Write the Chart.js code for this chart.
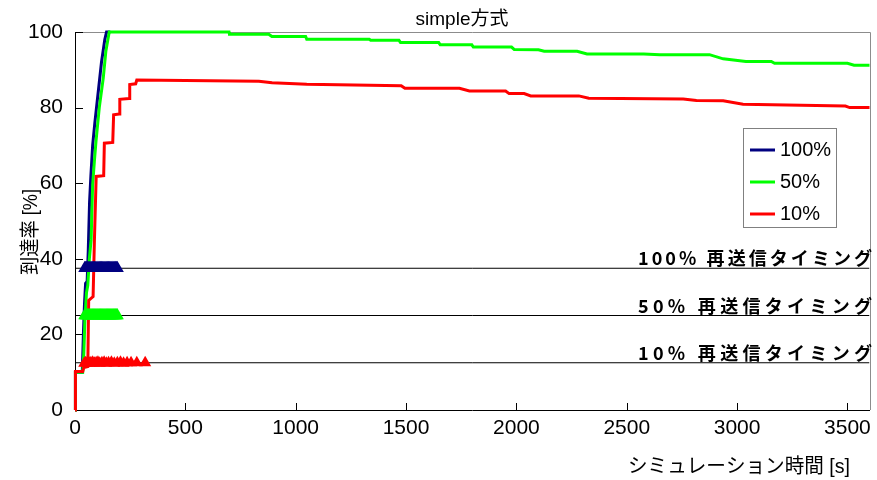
<!DOCTYPE html>
<html>
<head>
<meta charset="utf-8">
<script src="https://cdn.jsdelivr.net/npm/chart.js@4/dist/chart.umd.min.js"></script>
<style>
  html, body { margin: 0; padding: 0; background: #fff; }
  canvas { display: block; }
</style>
</head>
<body>
<canvas id="c" width="877" height="480"></canvas>
<script>
// ---- data (time [s], arrival rate [%]) ----
const navyT = [0, 2, 33, 38, 43, 48, 55, 60, 66, 72, 80, 90, 105, 120, 135, 143, 160];
const navyV = [0, 10, 10, 20, 28, 33.5, 34, 42, 55, 62, 70, 76, 84, 92, 98, 100, 100];

const greenT = [0, 2, 35, 40, 45, 52, 58, 65, 73, 80, 88, 95, 110, 128, 140, 155, 698, 700, 878, 892,
  1045, 1050, 1333, 1340, 1468, 1475, 1648, 1655, 1798, 1805, 1978, 1990, 2100, 2126, 2275, 2320,
  2577, 2650, 2875, 2937, 3040, 3155, 3170, 3500, 3530, 3600];
const greenV = [0, 10, 10, 15, 24, 31, 33, 40, 45, 59.6, 66, 71, 80, 87.8, 95, 100, 100, 99.4, 99.4, 98.8,
  98.8, 98.1, 98.1, 97.8, 97.8, 97.2, 97.2, 96.6, 96.6, 96.0, 96.0, 95.4, 95.3, 94.9, 94.9, 94.2,
  94.2, 94.0, 94.0, 92.9, 92.2, 92.2, 91.7, 91.7, 91.2, 91.2];

const redT = [0, 2, 35, 40, 58, 62, 82, 88, 96, 130, 133, 171, 175, 200, 203, 245, 248, 275, 280,
  833, 893, 1050, 1478, 1495, 1742, 1787, 1951, 1967, 2035, 2065, 2283, 2328, 2756, 2816, 2937,
  3027, 3491, 3510, 3600];
const redV = [0, 10.2, 10.2, 11.2, 11.5, 29, 30, 45, 61.8, 62, 70.6, 70.8, 78.1, 78.3, 82.2, 82.4, 86.1, 86.3, 87.3,
  87.0, 86.6, 86.2, 85.8, 85.1, 85.1, 84.4, 84.4, 83.7, 83.7, 83.1, 83.1, 82.5, 82.3, 81.9, 81.8,
  80.9, 80.4, 80.0, 80.0];

// resend timing markers
const navyMarkT = [44, 48, 52, 56, 60, 64, 68, 72, 76, 80, 84, 88, 92, 96, 100, 104, 108, 112, 116, 120,
  124, 128, 132, 136, 140, 144, 148, 152, 156, 160, 164, 168, 172, 176, 180, 184, 188, 192];
const navyMarkV = [37.5, 37.5, 37.5, 37.5, 37.5, 37.5, 37.5, 37.5, 37.5, 37.5, 37.5, 37.5, 37.5, 37.5, 37.5,
  37.5, 37.5, 37.5, 37.5, 37.5, 37.5, 37.5, 37.5, 37.5, 37.5, 37.5, 37.5, 37.5, 37.5, 37.5, 37.5, 37.5,
  37.5, 37.5, 37.5, 37.5, 37.5, 37.5];
const greenMarkT = [44, 48, 52, 56, 60, 64, 68, 72, 76, 80, 84, 88, 92, 96, 100, 104, 108, 112, 116, 120,
  124, 128, 132, 136, 140, 144, 148, 152, 156, 160, 164, 168, 172, 176, 180, 184, 188, 192];
const greenMarkV = [25, 25, 25, 25, 25, 25, 25, 25, 25, 25, 25, 25, 25, 25, 25, 25, 25, 25, 25,
  25, 25, 25, 25, 25, 25, 25, 25, 25, 25, 25, 25, 25, 25, 25, 25, 25, 25, 25];
const redMarkT = [42, 48, 54, 60, 66, 72, 80, 88, 96, 104, 112, 122, 132, 142, 152, 165, 178, 192, 206, 220, 236, 254, 280, 318];
const redMarkV = [12.4, 12.5, 12.4, 12.6, 12.4, 12.5, 12.6, 12.4, 12.5, 12.6, 12.4, 12.5, 12.6, 12.4,
  12.5, 12.6, 12.4, 12.5, 12.6, 12.4, 12.5, 12.5, 12.5, 12.5];

// reference lines
const refT = [0, 3600];
const ref100 = [37.5, 37.5];
const ref50 = [25, 25];
const ref10 = [12.5, 12.5];

// axis ticks
const xTicks = [0, 500, 1000, 1500, 2000, 2500, 3000, 3500];
const yTicks = [0, 20, 40, 60, 80, 100];

const seriesLabels = ['100%', '50%', '10%'];
const refLabels = ['100% 再送信タイミング', '50% 再送信タイミング', '10% 再送信タイミング'];
const titleText = 'simple方式';
const xTitle = 'シミュレーション時間 [s]';
const yTitle = '到達率 [%]';

const NAVY = '#000080', GREEN = '#00ff00', RED = '#ff0000';
const FONT = '"Liberation Sans", Arial, "Noto Sans CJK JP", sans-serif';

const pts = (t, v) => t.map((x, i) => ({ x, y: v[i] }));

function lineDs(t, v, color, label) {
  return { label, data: pts(t, v), borderColor: color, backgroundColor: color,
    borderWidth: 3, pointRadius: 0, tension: 0, showLine: true, clip: 4 };
}
function markDs(t, v, color, r) {
  return { data: pts(t, v), borderColor: color, backgroundColor: color, showLine: false,
    pointStyle: 'triangle', pointRadius: r, borderWidth: 0, clip: 8 };
}
function refDs(v) {
  return { data: pts(refT, v), borderColor: '#000', borderWidth: 1, pointRadius: 0, showLine: true };
}

const deco = {
  id: 'deco',
  beforeDatasetsDraw(chart) {
    const { ctx, chartArea: a, scales: { x, y } } = chart;
    ctx.save();
    // grey top/right frame
    ctx.strokeStyle = '#8c8c8c'; ctx.lineWidth = 1;
    ctx.beginPath();
    ctx.moveTo(a.left, Math.round(a.top) + 0.5);
    ctx.lineTo(Math.round(a.right) + 0.5, Math.round(a.top) + 0.5);
    ctx.lineTo(Math.round(a.right) + 0.5, a.bottom);
    ctx.stroke();
    // inner ticks
    ctx.strokeStyle = '#000';
    ctx.beginPath();
    yTicks.forEach(v => {
      const py = Math.round(y.getPixelForValue(v)) + 0.5;
      ctx.moveTo(a.left, py); ctx.lineTo(a.left + 8, py);
    });
    xTicks.forEach(v => {
      const px = Math.round(x.getPixelForValue(v)) + 0.5;
      ctx.moveTo(px, a.bottom); ctx.lineTo(px, a.bottom - 7);
    });
    ctx.stroke();
    ctx.restore();
  },
  afterDraw(chart) {
    const { ctx, scales: { y } } = chart;
    ctx.save();
    ctx.fillStyle = '#000';
    // title
    ctx.font = '19px ' + FONT;
    ctx.textAlign = 'center'; ctx.textBaseline = 'middle';
    ctx.fillText(titleText, 462, 20, 100);
    // x title
    ctx.font = '20px ' + FONT;
    ctx.textAlign = 'left';
    ctx.fillText(xTitle, 628, 467, 222);
    // y title
    ctx.save();
    ctx.translate(31, 232);
    ctx.rotate(-Math.PI / 2);
    ctx.textAlign = 'center';
    ctx.fillText(yTitle, 0, 0, 86);
    ctx.restore();

    // reference line labels, spread between fixed left/right
    ctx.font = 'bold 18px "Noto Sans CJK JP", sans-serif';
    ctx.textAlign = 'left'; ctx.textBaseline = 'alphabetic';
    [ref100[0], ref50[0], ref10[0]].forEach((v, i) => {
      const chars = Array.from(refLabels[i]);
      const widths = chars.map(c => ctx.measureText(c).width);
      const total = widths.reduce((s, w) => s + w, 0);
      const gap = (234 - total) / (chars.length - 1);
      let cx = 638;
      const py = y.getPixelForValue(v) - 3;
      chars.forEach((c, k) => { ctx.fillText(c, cx, py); cx += widths[k] + gap; });
    });

    // legend
    const lx = 743, ly = 128, lw = 93, lh = 99;
    ctx.fillStyle = '#fff';
    ctx.fillRect(lx, ly, lw, lh);
    ctx.strokeStyle = '#808080'; ctx.lineWidth = 1;
    ctx.strokeRect(lx + 0.5, ly + 0.5, lw, lh);
    const cols = [NAVY, GREEN, RED];
    ctx.font = '20px ' + FONT;
    ctx.textBaseline = 'middle';
    seriesLabels.forEach((lab, i) => {
      const ry = 150 + i * 32;
      ctx.strokeStyle = cols[i]; ctx.lineWidth = 3;
      ctx.beginPath(); ctx.moveTo(750, ry); ctx.lineTo(775, ry); ctx.stroke();
      ctx.fillStyle = '#000';
      ctx.fillText(lab, 780, ry);
    });
    ctx.restore();
  }
};

new Chart(document.getElementById('c'), {
  type: 'scatter',
  data: {
    datasets: [
      markDs(redMarkT, redMarkV, RED, 7),
      markDs(greenMarkT, greenMarkV, GREEN, 7.5),
      markDs(navyMarkT, navyMarkV, NAVY, 7.5),
      lineDs(redT, redV, RED, seriesLabels[2]),
      lineDs(greenT, greenV, GREEN, seriesLabels[1]),
      lineDs(navyT, navyV, NAVY, seriesLabels[0]),
      refDs(ref100), refDs(ref50), refDs(ref10)
    ]
  },
  options: {
    responsive: false,
    animation: false,
    devicePixelRatio: 1,
    layout: { padding: { top: 32, right: 2, left: 0, bottom: 0 } },
    plugins: { legend: { display: false }, tooltip: { enabled: false }, title: { display: false } },
    scales: {
      x: {
        type: 'linear', min: 0, max: 3600,
        ticks: { color: '#000', padding: 6, maxRotation: 0, autoSkip: false,
          font: { family: FONT, size: 21 }, callback: v => String(v) },
        afterBuildTicks(s) { s.ticks = xTicks.map(v => ({ value: v })); },
        grid: { drawOnChartArea: false, drawTicks: false },
        border: { color: '#000' },
        afterFit(s) { s.height = 70; s.paddingRight = 0; s.paddingLeft = 0; }
      },
      y: {
        min: 0, max: 100,
        ticks: { color: '#000', padding: 12, autoSkip: false, font: { family: FONT, size: 21 },
          callback: v => String(v) },
        afterBuildTicks(s) { s.ticks = yTicks.map(v => ({ value: v })); },
        grid: { drawOnChartArea: false, drawTicks: false },
        border: { color: '#000' },
        afterFit(s) { s.width = 75; s.paddingTop = 0; s.paddingBottom = 0; }
      }
    }
  },
  plugins: [deco]
});
</script>
</body>
</html>
